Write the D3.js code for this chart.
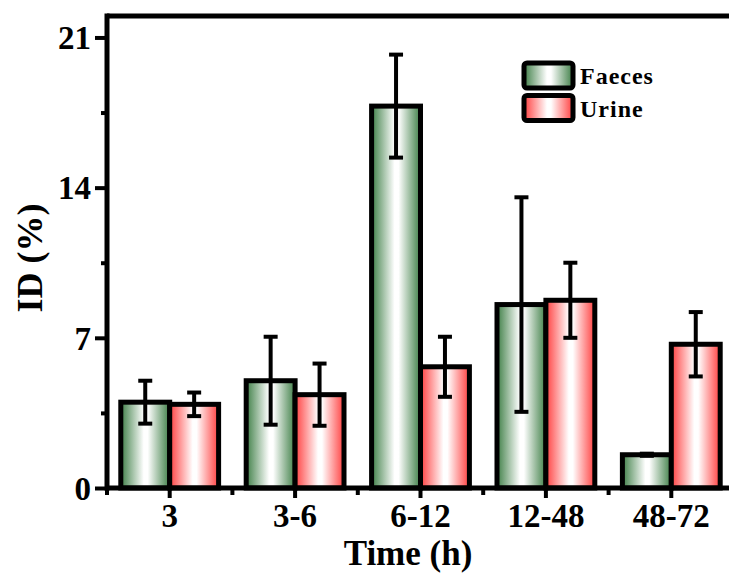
<!DOCTYPE html>
<html>
<head>
<meta charset="utf-8">
<script src="https://cdn.jsdelivr.net/npm/d3@7"></script>
<style>
  html, body { margin: 0; padding: 0; background: #fff; }
  svg { display: block; }
  text { font-family: "Liberation Serif", "Times New Roman", serif; font-weight: bold; fill: #000; }
</style>
</head>
<body>
<svg id="chart" width="729" height="574"></svg>
<script>
// Time windows after dosing
const categories = ["3", "3-6", "6-12", "12-48", "48-72"];
const seriesNames = ["Faeces", "Urine"];
// Mean injected dose (%) per window
const faecesValues = [4.0, 5.0, 17.8, 8.55, 1.55];
const urineValues = [3.9, 4.35, 5.65, 8.75, 6.7];
// Standard deviations
const faecesErrors = [1.0, 2.05, 2.4, 5.0, 0.05];
const urineErrors = [0.55, 1.45, 1.4, 1.75, 1.5];
// Axis ticks
const yMajorTicks = [0, 7, 14, 21];
const yMinorTicks = [3.5, 10.5, 17.5];

const svg = d3.select("#chart");
const margin = { left: 107, top: 16, right: -5, bottom: 86 };
const W = 729, H = 574;
const x0 = margin.left, x1 = W - margin.right;
const yTop = margin.top, yBottom = H - margin.bottom;

const x = d3.scaleBand().domain(categories).range([x0, x1]).paddingInner(0).paddingOuter(0);
const y = d3.scaleLinear().domain([0, 22]).range([yBottom, yTop]);
const barW = x.bandwidth() * 0.39;

// Gradient fills: coloured edges fading to white in the middle
const defs = svg.append("defs");
const gradColors = { Faeces: "#3f7f47", Urine: "#ff3f3f" };
seriesNames.forEach(name => {
  const g = defs.append("linearGradient").attr("id", "grad-" + name)
    .attr("x1", "0%").attr("x2", "100%").attr("y1", "0%").attr("y2", "0%");
  g.append("stop").attr("offset", "0%").attr("stop-color", gradColors[name]);
  g.append("stop").attr("offset", "47%").attr("stop-color", "#ffffff");
  g.append("stop").attr("offset", "55%").attr("stop-color", "#ffffff");
  g.append("stop").attr("offset", "100%").attr("stop-color", gradColors[name]);
});

const rows = categories.map((c, i) => ({
  cat: c,
  vals: [
    { s: "Faeces", v: faecesValues[i], e: faecesErrors[i], off: -1 },
    { s: "Urine", v: urineValues[i], e: urineErrors[i], off: 0 }
  ]
}));

const bars = svg.append("g");
rows.forEach(r => {
  const cx = x(r.cat) + x.bandwidth() / 2;
  r.vals.forEach(d => {
    const left = cx + d.off * barW;
    bars.append("rect")
      .attr("x", left).attr("width", barW)
      .attr("y", y(d.v)).attr("height", y(0) - y(d.v))
      .attr("fill", `url(#grad-${d.s})`)
      .attr("stroke", "#000").attr("stroke-width", 5)
      .attr("stroke-linejoin", "miter");
  });
});

// Error bars
const errs = svg.append("g").attr("stroke", "#000");
rows.forEach(r => {
  const cx = x(r.cat) + x.bandwidth() / 2;
  r.vals.forEach(d => {
    const ex = cx + d.off * barW + barW / 2;
    const hi = y(d.v + d.e), lo = y(d.v - d.e);
    errs.append("line").attr("x1", ex).attr("x2", ex).attr("y1", hi).attr("y2", lo).attr("stroke-width", 4);
    [hi, lo].forEach(yy => errs.append("line")
      .attr("x1", ex - 7).attr("x2", ex + 7).attr("y1", yy).attr("y2", yy).attr("stroke-width", 4));
  });
});

// Frame: top line, left axis line, bottom axis line
const frame = svg.append("g").attr("stroke", "#000").attr("stroke-width", 5).attr("fill", "none");
frame.append("line").attr("x1", x0).attr("x2", W).attr("y1", yTop).attr("y2", yTop);
frame.append("line").attr("x1", x0).attr("x2", x0).attr("y1", yTop - 2.5).attr("y2", yBottom + 2.5);
frame.append("line").attr("x1", x0).attr("x2", W).attr("y1", yBottom).attr("y2", yBottom);

// Y axis ticks
const yAxis = svg.append("g").attr("transform", `translate(${x0},0)`)
  .call(d3.axisLeft(y).tickValues(yMajorTicks).tickSize(12).tickPadding(4).tickFormat(d3.format("d")));
yAxis.select(".domain").remove();
yAxis.selectAll(".tick line").attr("stroke-width", 4);
yAxis.selectAll(".tick text").style("font-size", "33px").attr("dy", "0.34em")
  .style("font-family", '"Liberation Serif", serif').style("font-weight", "bold");
const yMinor = svg.append("g").attr("transform", `translate(${x0},0)`)
  .call(d3.axisLeft(y).tickValues(yMinorTicks).tickSize(6).tickFormat(""));
yMinor.select(".domain").remove();
yMinor.selectAll(".tick line").attr("stroke-width", 4);

// X axis ticks: majors at group centres, minors at group boundaries
const xAxis = svg.append("g").attr("transform", `translate(0,${yBottom})`)
  .call(d3.axisBottom(x).tickSize(10).tickPadding(6));
xAxis.select(".domain").remove();
xAxis.selectAll(".tick line").attr("stroke-width", 4);
xAxis.selectAll(".tick text").style("font-size", "33px")
  .style("font-family", '"Liberation Serif", serif').style("font-weight", "bold");
const bounds = categories.map(c => x(c));
svg.append("g").selectAll("line").data(bounds).join("line")
  .attr("x1", d => d).attr("x2", d => d)
  .attr("y1", yBottom).attr("y2", yBottom + 7)
  .attr("stroke", "#000").attr("stroke-width", 4);

// Axis titles
svg.append("text").attr("x", (x0 + 729) / 2 - 10).attr("y", 565)
  .attr("text-anchor", "middle").style("font-size", "35px").text("Time (h)");
svg.append("text").attr("transform", `translate(42,258) rotate(-90)`)
  .attr("text-anchor", "middle").style("font-size", "36px").text("ID (%)");

// Legend
const legend = svg.append("g").attr("transform", "translate(524,63)");
seriesNames.forEach((name, i) => {
  const g = legend.append("g").attr("transform", `translate(0,${i * 32.5})`);
  g.append("rect").attr("width", 49).attr("height", 25).attr("rx", 3)
    .attr("fill", `url(#grad-${name})`).attr("stroke", "#000").attr("stroke-width", 5);
  g.append("text").attr("x", 56).attr("y", 21).style("font-size", "24px")
    .style("letter-spacing", "1px").text(name);
});
</script>
</body>
</html>
